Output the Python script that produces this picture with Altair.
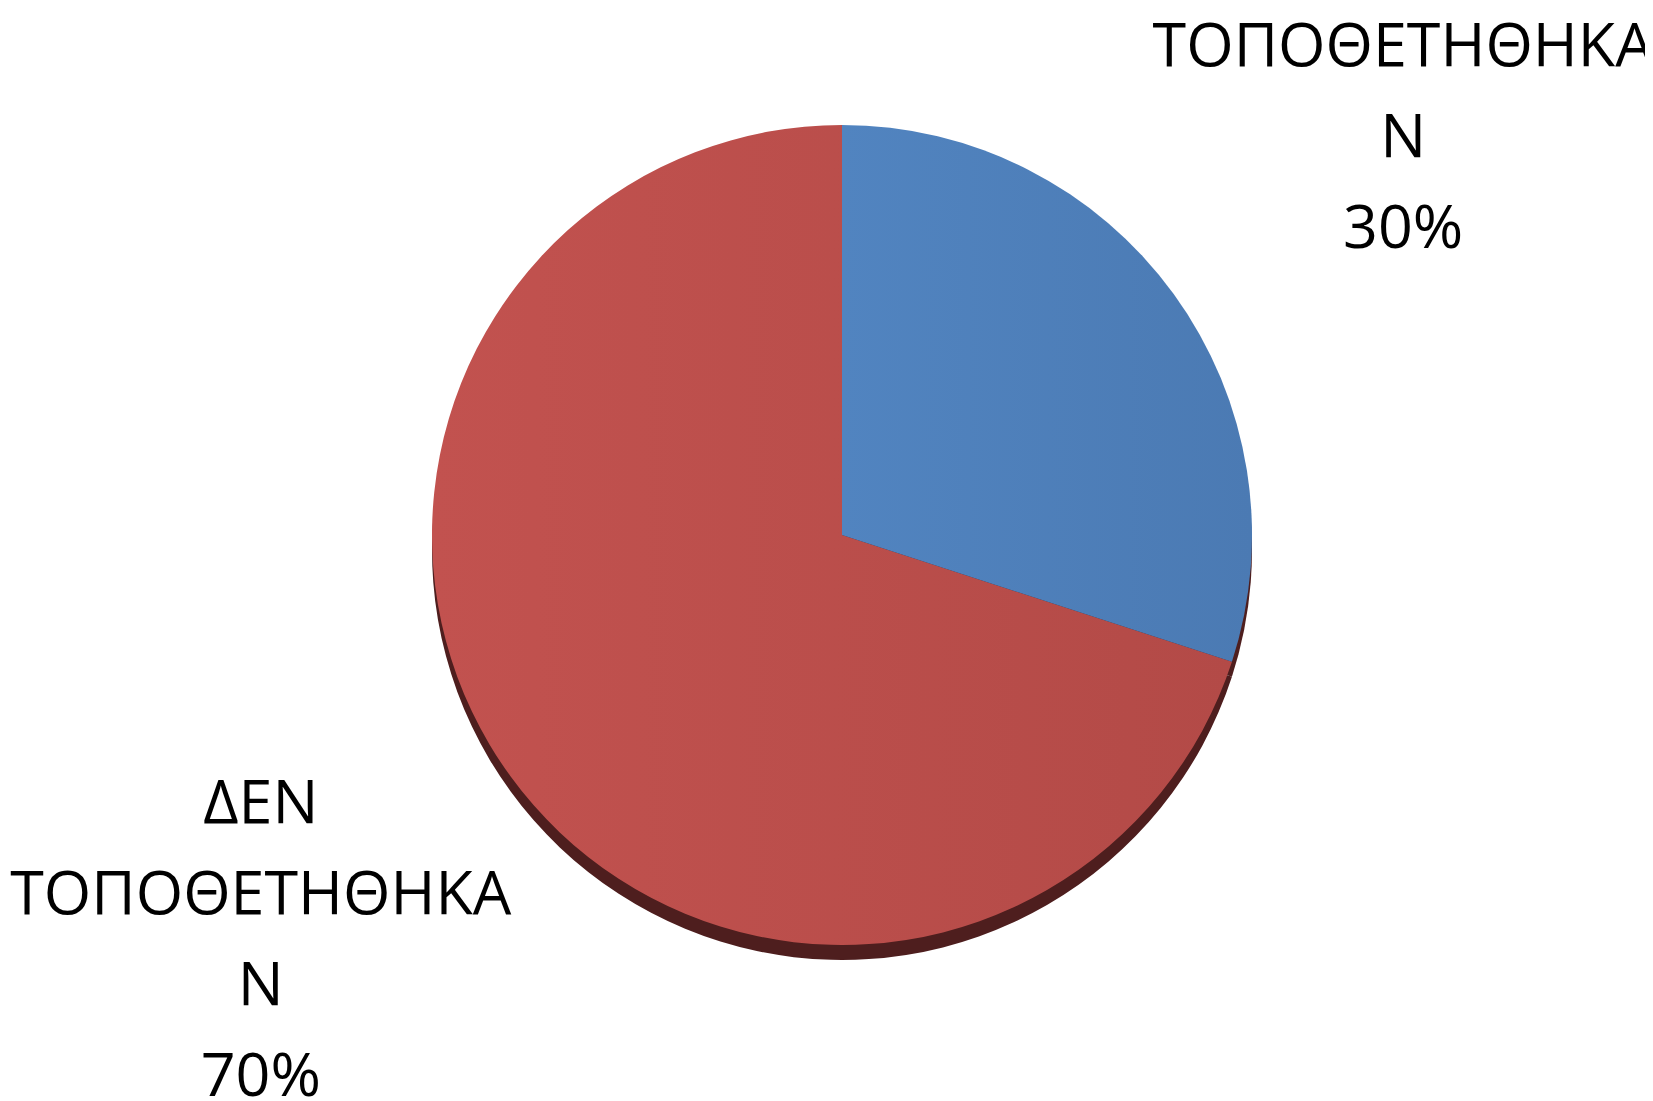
import altair as alt
import pandas as pd

# Data
categories = ["ΤΟΠΟΘΕΤΗΘΗΚΑΝ", "ΔΕΝ ΤΟΠΟΘΕΤΗΘΗΚΑΝ"]
values = [30, 70]
labels = ["ΤΟΠΟΘΕΤΗΘΗΚΑ\nΝ\n30%", "ΔΕΝ\nΤΟΠΟΘΕΤΗΘΗΚΑ\nΝ\n70%"]

df = pd.DataFrame({"category": categories, "value": values, "label": labels})
df["end"] = df["value"].cumsum()
df["start"] = df["end"] - df["value"]
df["mid"] = df["start"] + df["value"] / 2

CX, CY, R = 834, 527, 410
theta_scale = alt.Scale(domain=[0, 100], range=[0, 6.283185307179586])

base = alt.Chart(df)


def grad(c1, c2):
    return alt.LinearGradient(
        gradient="linear",
        stops=[alt.GradientStop(color=c1, offset=0), alt.GradientStop(color=c2, offset=1)],
        x1=0, x2=1, y1=0, y2=0,
    )


shadow = base.mark_arc(fill="#4E1E1E", radius=R).encode(
    theta=alt.Theta("start:Q", scale=theta_scale),
    theta2="end:Q",
    x=alt.value(CX),
    y=alt.value(CY + 15),
)

blue = base.transform_filter(alt.datum.category == categories[0]).mark_arc(
    fill=grad("#5184C0", "#4B7AB3"), radius=R
).encode(
    theta=alt.Theta("start:Q", scale=theta_scale),
    theta2="end:Q",
    x=alt.value(CX),
    y=alt.value(CY),
)

red = base.transform_filter(alt.datum.category == categories[1]).mark_arc(
    fill=grad("#C2524F", "#B34A47"), radius=R
).encode(
    theta=alt.Theta("start:Q", scale=theta_scale),
    theta2="end:Q",
    x=alt.value(CX),
    y=alt.value(CY),
)


def label_layer(cat, dy):
    return base.transform_filter(alt.datum.category == cat).mark_text(
        font="Open Sans",
        fontSize=61,
        lineHeight=91,
        lineBreak="\n",
        align="center",
        baseline="alphabetic",
        color="#000000",
        radius=706,
        dx=-10,
        dy=dy,
    ).encode(
        theta=alt.Theta("mid:Q", scale=theta_scale),
        text="label:N",
        x=alt.value(CX),
        y=alt.value(CY),
    )


text_top = label_layer(categories[0], -54)
text_bottom = label_layer(categories[1], -127)

chart = (
    alt.layer(shadow, red, blue, text_top, text_bottom)
    .properties(width=1637, height=1093, autosize="none", padding=0)
    .configure_view(stroke=None)
)

chart.save("out.html", embed_options={"renderer": "svg", "actions": False})
